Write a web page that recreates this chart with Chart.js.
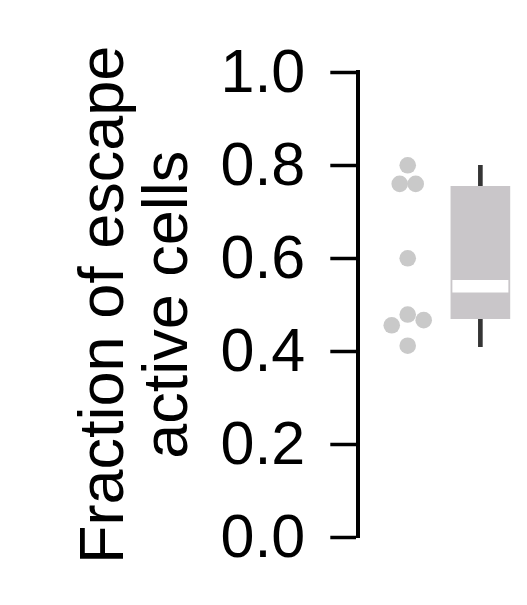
<!DOCTYPE html>
<html lang="en">
<head>
  <meta charset="UTF-8">
  <title>Fraction of escape active cells</title>
  <script src="https://cdn.jsdelivr.net/npm/chart.js"></script>
  <style>
    html, body {
      margin: 0;
      padding: 0;
      background: #ffffff;
    }

    #chart-container {
      width: 527px;
      height: 605px;
    }
  </style>
</head>
<body>
  <div id="chart-container">
    <canvas id="escapeChart"></canvas>
  </div>

  <script>
// individual cells
const fractions = [0.80, 0.76, 0.76, 0.60, 0.456, 0.479, 0.467, 0.412];
// box summary: min, q1, median, q3, max
const boxStats = [0.41, 0.47, 0.54, 0.755, 0.80];
const yTickValues = [0, 0.2, 0.4, 0.6, 0.8, 1.0];
const titleLines = ["Fraction of escape", "active cells"];

const dotX = 1;
const boxX = 2;
const binWidth = 0.05;   // values in the same bin are spread side by side
const spread = 0.22;

// simple binned spread for the dots
const bins = {};
fractions.forEach((v, i) => {
  const b = Math.floor(v / binWidth + 1e-9);
  (bins[b] = bins[b] || []).push(i);
});
const dots = fractions.map((v, i) => {
  const group = bins[Math.floor(v / binWidth + 1e-9)];
  const k = group.indexOf(i);
  return { x: dotX + (k - (group.length - 1) / 2) * spread, y: v };
});

const font = "'Liberation Sans', Arial, sans-serif";

const ctx = document.getElementById("escapeChart").getContext("2d");
new Chart(ctx, {
  type: "bar",
  data: {
    datasets: [
      {
        type: "scatter",
        data: dots,
        pointRadius: 8.3,
        pointHoverRadius: 8.3,
        backgroundColor: "#c9c9c9",
        borderWidth: 0,
        order: 0
      },
      {
        type: "scatter",
        data: [{ x: boxX, y: boxStats[2] }],
        pointStyle: "line",
        pointRadius: 28,
        pointHoverRadius: 28,
        borderColor: "#ffffff",
        borderWidth: 12.5,
        order: 1
      },
      {
        data: [{ x: boxX, y: [boxStats[1], boxStats[3]] }],
        backgroundColor: "#c9c6c9",
        barThickness: 59,
        grouped: false,
        order: 2
      },
      {
        data: [{ x: boxX, y: [boxStats[0], boxStats[4]] }],
        backgroundColor: "#353535",
        barThickness: 4,
        grouped: false,
        order: 3
      }
    ]
  },
  options: {
    responsive: true,
    maintainAspectRatio: false,
    animation: false,
    layout: {
      autoPadding: false,
      padding: { top: 72.3, bottom: 67.7, left: 0, right: 10.3 }
    },
    plugins: {
      legend: { display: false },
      tooltip: { enabled: false }
    },
    scales: {
      x: {
        type: "linear",
        display: false,
        offset: false,
        min: 0.32,
        max: 2.5
      },
      y: {
        min: 0,
        max: 1,
        afterFit: scale => { scale.width = 358.3; },
        afterBuildTicks: scale => {
          scale.ticks = yTickValues.map(v => ({ value: v }));
        },
        border: {
          display: true,
          color: "#000000",
          width: 4
        },
        grid: {
          drawOnChartArea: false,
          drawTicks: true,
          tickLength: 28,
          tickWidth: 3.5,
          tickColor: "#000000"
        },
        ticks: {
          color: "#000000",
          padding: 25,
          labelOffset: 2.5,
          font: { family: font, size: 61 },
          callback: v => Number(v).toFixed(1)
        },
        title: {
          display: true,
          text: titleLines,
          color: "#000000",
          padding: { top: 74, bottom: 0 },
          font: { family: font, size: 63, lineHeight: 64 / 63 }
        }
      }
    }
  }
});
  </script>
</body>
</html>
